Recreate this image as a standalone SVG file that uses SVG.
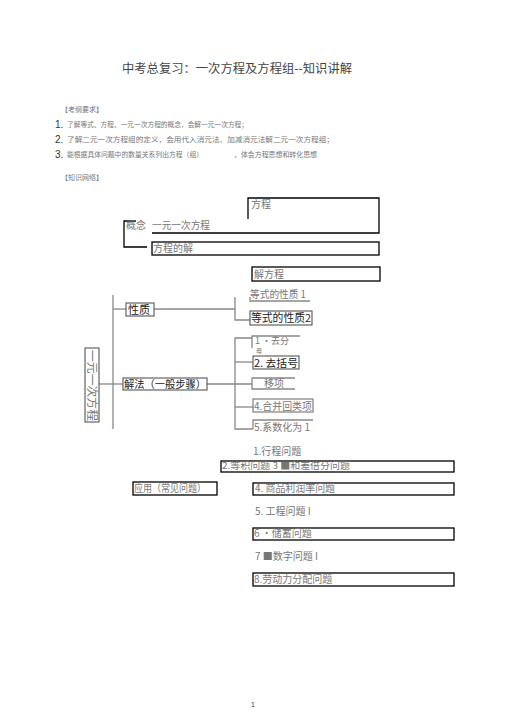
<svg xmlns="http://www.w3.org/2000/svg" width="505" height="714" viewBox="0 0 505 714">
<style>
text{font-family:"Noto Sans CJK SC","Liberation Sans",sans-serif;fill:#777}
.t{font-size:12px;fill:#444}
.s{font-size:6.8px;fill:#777}
.n{font-size:10px;fill:#333;font-family:"Liberation Sans","Noto Sans CJK SC",sans-serif}
.d{font-size:10px}
.b{font-size:11px;fill:#222}
.box{fill:none;stroke:#000;stroke-width:1.3}
.ln{fill:none;stroke:#000;stroke-width:1.3}
.c{fill:none;stroke:#888;stroke-width:1.3}
.gb{fill:none;stroke:#555;stroke-width:1.1}
</style>
<rect width="505" height="714" fill="#fff"/>
<g id="header">
<text class="t" x="122" y="73" textLength="230" lengthAdjust="spacingAndGlyphs">中考总复习：一次方程及方程组--知识讲解</text>
<text class="s" x="61" y="112" textLength="42" lengthAdjust="spacingAndGlyphs">【考纲要求】</text>
<text class="n" x="55" y="128">1.</text>
<text class="s" x="67" y="127" textLength="181" lengthAdjust="spacingAndGlyphs">了解等式、方程、一元一次方程的概念，会解一元一次方程；</text>
<text class="n" x="55" y="143">2.</text>
<text class="s" x="67" y="142" textLength="267" lengthAdjust="spacingAndGlyphs">了解二元一次方程组的定义，会用代入消元法、加减消元法解二元一次方程组；</text>
<text class="n" x="55" y="158">3.</text>
<text class="s" x="67" y="157" textLength="136" lengthAdjust="spacingAndGlyphs">能根据具体问题中的数量关系列出方程（组）</text>
<text class="s" x="234" y="157" textLength="83" lengthAdjust="spacingAndGlyphs">，体会方程思想和转化思想</text>
<text class="s" x="61" y="180" textLength="42" lengthAdjust="spacingAndGlyphs">【知识网络】</text>
</g>
<g id="connectors">
<polyline class="ln" points="136,221 124,221 124,247 147,247"/>
<line class="c" x1="113" y1="295" x2="113" y2="429"/>
<line class="c" x1="99" y1="384" x2="123" y2="384"/>
<line class="c" x1="113" y1="309" x2="126" y2="309"/>
<line class="c" x1="154" y1="309" x2="235" y2="309"/>
<polyline class="c" points="235,297 235,320 250,320"/>
<line class="c" x1="207" y1="384" x2="252" y2="384"/>
<polyline class="c" points="252,338 235,338 235,429 253,429"/>
<line class="c" x1="235" y1="362" x2="253" y2="362"/>
<line class="c" x1="235" y1="407" x2="253" y2="407"/>
</g>
<g id="n-fangcheng">
<polyline class="ln" points="248,219 248,198 379,198 379,233 152,233"/>
<text class="d" x="251" y="208">方程</text>
</g>
<g id="n-gainian">
<text class="d" x="126" y="229">概念</text>
</g>
<g id="n-yiyuan">
<text class="d" x="152" y="229" textLength="58" lengthAdjust="spacingAndGlyphs">一元一次方程</text>
</g>
<g id="n-jie">
<rect class="box" x="152" y="242" width="227" height="13"/>
<text class="d" x="153" y="252">方程的解</text>
</g>
<g id="n-jiefangcheng">
<rect class="box" x="252" y="267" width="128" height="14"/>
<text class="d" x="254" y="277.5">解方程</text>
</g>
<g id="n-root">
<rect class="gb" x="85" y="348" width="14" height="74"/>
<text class="d" x="0" y="0" transform="translate(88,350) rotate(90)" textLength="71" lengthAdjust="spacingAndGlyphs" style="font-size:11.5px">一元一次方程</text>
</g>
<g id="n-xingzhi">
<rect class="gb" x="126" y="303" width="28" height="13"/>
<text class="b" x="128" y="313.5">性质</text>
</g>
<g id="n-xz1">
<polyline class="c" points="250,297 250,301 310,301"/>
<text class="d" x="250" y="298" textLength="56" lengthAdjust="spacingAndGlyphs">等式的性质 1</text>
</g>
<g id="n-xz2">
<rect class="gb" x="250" y="311" width="62" height="14"/>
<text class="b" x="251" y="321.5" textLength="60" lengthAdjust="spacingAndGlyphs">等式的性质2</text>
</g>
<g id="n-jiefa">
<rect class="gb" x="123" y="378" width="84" height="12"/>
<text class="b" x="124" y="387.5" textLength="82" lengthAdjust="spacingAndGlyphs" style="font-size:10.5px">解法（一般步骤）</text>
</g>
<g id="n-s1">
<polyline class="c" points="252,348 252,336 300,336"/>
<text class="d" x="255" y="344" style="font-size:9px">1 ・去分</text>
<text class="d" x="256" y="352.8" style="font-size:6px">母</text>
</g>
<g id="n-s2">
<rect class="gb" x="253" y="356" width="46" height="13"/>
<text class="b" x="254" y="366.5" textLength="44" lengthAdjust="spacingAndGlyphs" style="font-size:10.5px">2. 去括号</text>
</g>
<g id="n-s3">
<polyline class="c" points="295,378 252,378 252,389 295,389"/>
<text class="d" x="264" y="386.5">移项</text>
</g>
<g id="n-s4">
<rect class="c" x="253" y="399" width="60" height="13"/>
<text class="d" x="254" y="409.5" textLength="58" lengthAdjust="spacingAndGlyphs">4.合并回类项</text>
</g>
<g id="n-s5">
<polyline class="c" points="253,429 253,420 313,420"/>
<text class="d" x="254" y="431" textLength="56" lengthAdjust="spacingAndGlyphs">5.系数化为 1</text>
</g>
<g id="n-app">
<rect class="box" x="133" y="482" width="84" height="13"/>
<text class="d" x="134" y="491.5" textLength="72" lengthAdjust="spacingAndGlyphs">应用（常见问题）</text>
</g>
<g id="n-p1">
<text class="d" x="253" y="455">1.行程问题</text>
</g>
<g id="n-p2">
<rect class="box" x="221" y="461" width="233" height="11"/>
<text class="d" x="222" y="469" textLength="128" lengthAdjust="spacingAndGlyphs" style="font-size:9.5px">2.等积问题 3 ■和差倍分问题</text>
</g>
<g id="n-p4">
<rect class="box" x="253" y="483" width="201" height="12"/>
<text class="d" x="255" y="492" textLength="80" lengthAdjust="spacingAndGlyphs">4. 商品利润率问题</text>
</g>
<g id="n-p5">
<text class="d" x="255" y="515">5. 工程问题 I</text>
</g>
<g id="n-p6">
<rect class="box" x="253" y="528" width="201" height="12"/>
<text class="d" x="254" y="537">6 ・储蓄问题</text>
</g>
<g id="n-p7">
<text class="d" x="255" y="560">7 ■数字问题 I</text>
</g>
<g id="n-p8">
<rect class="box" x="253" y="573" width="201" height="13"/>
<text class="d" x="254" y="582.5">8.劳动力分配问题</text>
</g>
<text class="n" x="251" y="707" style="font-size:7px">1</text>
</svg>
